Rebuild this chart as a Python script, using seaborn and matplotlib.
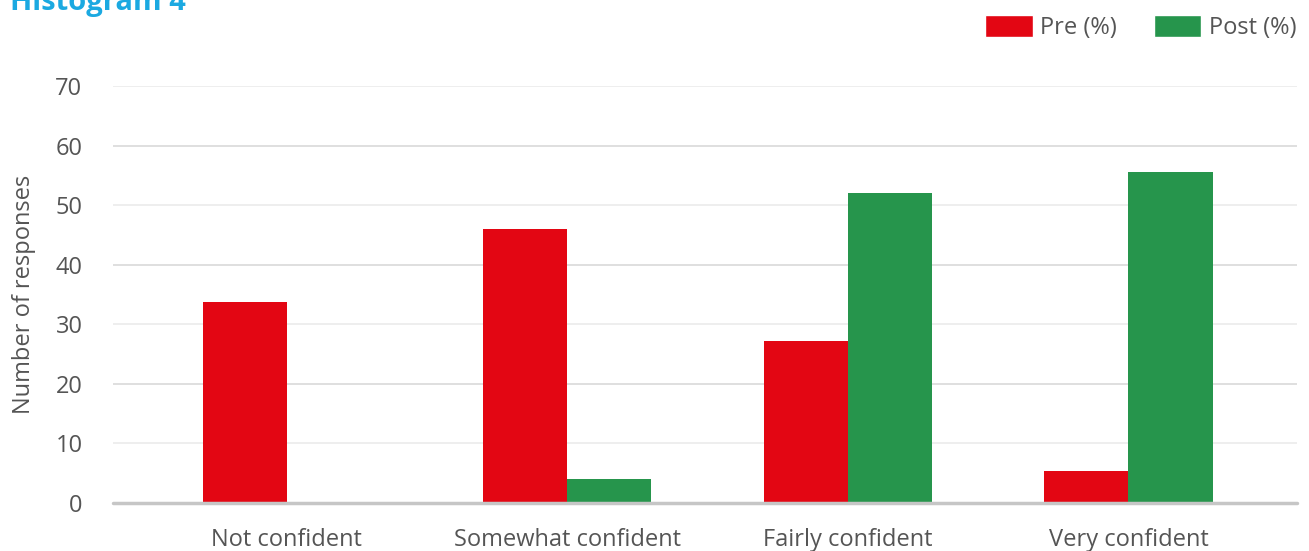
import matplotlib
matplotlib.use('Agg')
import matplotlib.pyplot as plt
from matplotlib.patches import Patch
import seaborn as sns
import pandas as pd

sns.set_theme(style="white")
plt.rcParams['font.family'] = ['Open Sans', 'DejaVu Sans']

# data
CATEGORIES = ['Not confident', 'Somewhat confident', 'Fairly confident', 'Very confident']
PRE = [33.7, 46.0, 27.2, 5.4]
POST = [0.0, 4.0, 52.0, 55.5]
SERIES = ['Pre (%)', 'Post (%)']
Y_TICKS = [0, 10, 20, 30, 40, 50, 60, 70]

RED = '#e30613'
GREEN = '#26954c'
TEXT_GRAY = '#555555'

df = pd.DataFrame({
    'category': CATEGORIES * 2,
    'value': PRE + POST,
    'series': [SERIES[0]] * len(CATEGORIES) + [SERIES[1]] * len(CATEGORIES),
})

fig = plt.figure(figsize=(13.09, 5.51), dpi=100)
ax = fig.add_axes([113 / 1309, 1 - 503 / 551, (1297 - 113) / 1309, (503 - 86) / 551])

sns.barplot(data=df, x='category', y='value', hue='series',
            palette=[RED, GREEN], width=0.6, saturation=1, linewidth=0,
            legend=False, ax=ax, zorder=3)

# grid lines
for t in Y_TICKS[1:]:
    col = '#d9d9d9' if t % 20 == 0 else '#ebebeb'
    ax.axhline(t, color=col, lw=1.2, zorder=1)
ax.axhline(0, color='#c6c6c6', lw=2.5, zorder=4, clip_on=False)

ax.set_ylim(0, 70)
ax.set_xlim(-0.619, 3.601)
ax.set_yticks(Y_TICKS)
ax.tick_params(axis='both', length=0, labelsize=17, colors=TEXT_GRAY)
ax.tick_params(axis='y', pad=22)
ax.tick_params(axis='x', pad=18)
for s in ax.spines.values():
    s.set_visible(False)
ax.set_xlabel('')
ax.set_ylabel('Number of responses', fontsize=17, color=TEXT_GRAY, labelpad=14)

# legend
handles = [Patch(facecolor=RED, label=SERIES[0]), Patch(facecolor=GREEN, label=SERIES[1])]
leg = fig.legend(handles=handles, loc='upper right', bbox_to_anchor=(1.0, 0.997),
                 ncol=2, frameon=False, fontsize=17, handlelength=2.0, handleheight=1.1,
                 handletextpad=0.3, columnspacing=1.6, borderaxespad=0.15)
for txt in leg.get_texts():
    txt.set_color(TEXT_GRAY)

# title, cut off at the top edge
fig.text(10 / 1309, 1 - 10 / 551, 'Histogram 4', color='#1ba9e1', fontsize=21,
         fontweight='bold', ha='left', va='baseline')

plt.savefig('out.png', dpi=100)
